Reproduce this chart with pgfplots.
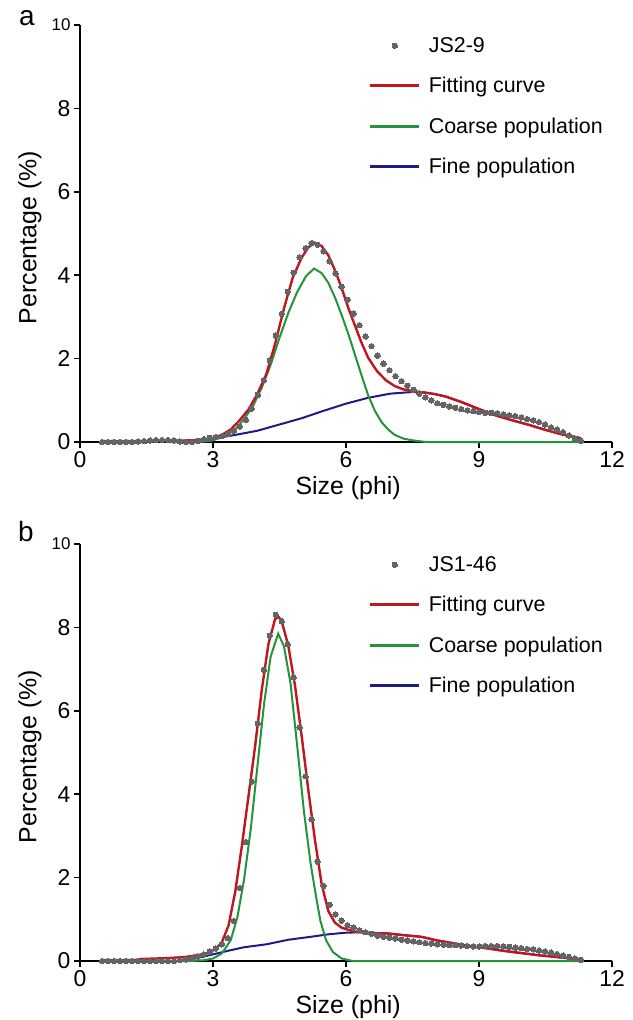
\documentclass[border=0pt]{standalone}
\usepackage{fontspec}
\setmainfont{Liberation Sans}
\usepackage{pgfplots}
\pgfplotsset{compat=1.18}
\definecolor{fitred}{RGB}{192,22,32}
\definecolor{coarsegreen}{RGB}{34,148,58}
\definecolor{finenavy}{RGB}{30,28,130}
\definecolor{dotgray}{RGB}{100,100,100}

\pgfplotsset{
 panel/.style={
  scale only axis, width=532bp, height=417bp,
  xmin=0, xmax=12, ymin=0, ymax=10,
  axis x line*=bottom, axis y line*=left,
  axis line style={line width=1.7bp, black, -},
  xtick={0,3,6,9,12}, ytick={0,2,4,6,8,10},
  yticklabels={0,2,4,6,8,{\fontsize{17}{19}\selectfont 10}},
  tick align=outside, major tick length=6bp,
  tick style={line width=1.7bp, black},
  /pgf/number format/assume math mode=true,
  tick label style={font=\fontsize{23}{26}\selectfont},
  label style={font=\fontsize{25}{28}\selectfont},
  xlabel={Size (phi)}, ylabel={Percentage (\%)},
  xlabel style={at={(axis description cs:0.504,-0.11)}, anchor=center},
  ylabel style={at={(axis description cs:-0.094,0.49)}, anchor=center},
  clip=false,
  legend cell align=left,
  legend style={draw=none, fill=none, font=\fontsize{21.5}{24}\selectfont,
    at={(axis description cs:0.537,0.98)}, anchor=north west, row sep=19.5bp,
    /tikz/every odd column/.append style={column sep=6bp}},
  legend image code/.code={\draw[##1] (0bp,0bp) -- (49bp,0bp);},
 },
 dots/.style={only marks, mark=*, mark size=2.7bp, mark options={draw=dotgray,fill=dotgray,line width=0pt},
   legend image code/.code={\draw[mark repeat=2,mark phase=2,##1] plot coordinates {(0bp,0bp) (24.5bp,0bp) (49bp,0bp)};}},
 fitline/.style={fitred, line width=2.4bp},
 coarseline/.style={coarsegreen, line width=2bp},
 fineline/.style={finenavy, line width=2bp},
}

\pgfplotstableread{
x y
0.5 0
0.635 0
0.77 0
0.905 0
1.04 0
1.175 0
1.31 0.01
1.445 0.02
1.58 0.04
1.715 0.05
1.85 0.05
1.985 0.05
2.12 0.04
2.255 0.01
2.39 0
2.525 0
2.66 0.03
2.795 0.07
2.93 0.1
3.065 0.12
3.2 0.14
3.335 0.19
3.47 0.27
3.605 0.37
3.74 0.53
3.875 0.8
4.01 1.13
4.145 1.48
4.28 1.95
4.415 2.55
4.55 3.07
4.685 3.6
4.82 4.06
4.955 4.43
5.09 4.65
5.225 4.77
5.36 4.73
5.495 4.57
5.63 4.33
5.765 4.04
5.9 3.72
6.035 3.41
6.17 3.08
6.305 2.8
6.44 2.53
6.575 2.3
6.71 2.07
6.845 1.88
6.98 1.72
7.115 1.58
7.25 1.46
7.385 1.35
7.52 1.25
7.655 1.16
7.79 1.07
7.925 1.0
8.06 0.93
8.195 0.89
8.33 0.85
8.465 0.82
8.6 0.79
8.735 0.76
8.87 0.74
9.005 0.72
9.14 0.7
9.275 0.7
9.41 0.69
9.545 0.66
9.68 0.64
9.815 0.62
9.95 0.59
10.085 0.55
10.22 0.52
10.355 0.48
10.49 0.42
10.625 0.35
10.76 0.3
10.895 0.24
11.03 0.16
11.165 0.08
11.3 0.03
}\dotsA

\pgfplotstableread{
x y
0.5 0.02
1.0 0.02
1.5 0.02
2.0 0.03
2.5 0.04
2.8 0.06
3.0 0.1
3.2 0.17
3.4 0.3
3.6 0.52
3.8 0.78
4.0 1.15
4.2 1.62
4.4 2.35
4.6 3.2
4.8 3.95
5.0 4.42
5.15 4.67
5.3 4.78
5.45 4.7
5.6 4.48
5.75 4.12
5.9 3.7
6.05 3.22
6.2 2.8
6.35 2.38
6.5 2.02
6.7 1.7
6.9 1.48
7.1 1.34
7.3 1.26
7.5 1.22
7.75 1.19
8.0 1.15
8.25 1.09
8.6 0.96
9.0 0.79
9.37 0.64
9.75 0.52
10.13 0.41
10.5 0.29
10.88 0.18
11.3 0.09
}\fitA

\pgfplotstableread{
x y
2.0 0
2.5 0
2.8 0.01
3.0 0.04
3.25 0.13
3.5 0.3
3.7 0.55
3.9 0.86
4.1 1.3
4.3 1.85
4.5 2.5
4.7 3.1
4.9 3.6
5.1 3.98
5.28 4.16
5.45 4.05
5.6 3.82
5.75 3.47
5.9 3.05
6.05 2.6
6.2 2.1
6.35 1.6
6.5 1.12
6.65 0.75
6.8 0.48
6.95 0.3
7.1 0.17
7.3 0.08
7.5 0.04
7.8 0.0
11.3 0.0
}\coarseA

\pgfplotstableread{
x y
2.2 0
2.5 0.03
3.0 0.08
3.5 0.17
4.0 0.27
4.5 0.42
5.0 0.57
5.5 0.75
6.0 0.92
6.5 1.06
7.0 1.16
7.5 1.2
7.75 1.19
8.0 1.15
8.25 1.09
8.6 0.96
9.0 0.79
9.37 0.64
9.75 0.52
10.13 0.41
10.5 0.29
10.88 0.18
11.3 0.09
}\fineA

\pgfplotstableread{
x y
0.5 0
0.635 0
0.77 0
0.905 0
1.04 0
1.175 0
1.31 0
1.445 0
1.58 0
1.715 0
1.85 0
1.985 0
2.12 0
2.255 0.02
2.39 0.04
2.525 0.07
2.66 0.11
2.795 0.16
2.93 0.23
3.065 0.3
3.2 0.4
3.335 0.55
3.47 0.96
3.605 1.75
3.74 2.85
3.875 4.3
4.01 5.7
4.145 6.98
4.28 7.8
4.415 8.3
4.55 8.15
4.685 7.6
4.82 6.8
4.955 5.6
5.09 4.43
5.225 3.4
5.36 2.38
5.495 1.8
5.63 1.35
5.765 1.12
5.9 0.97
6.035 0.86
6.17 0.8
6.305 0.74
6.44 0.69
6.575 0.65
6.71 0.61
6.845 0.58
6.98 0.56
7.115 0.54
7.25 0.51
7.385 0.49
7.52 0.47
7.655 0.45
7.79 0.43
7.925 0.42
8.06 0.4
8.195 0.39
8.33 0.38
8.465 0.38
8.6 0.37
8.735 0.36
8.87 0.35
9.005 0.35
9.14 0.36
9.275 0.36
9.41 0.36
9.545 0.35
9.68 0.34
9.815 0.32
9.95 0.31
10.085 0.29
10.22 0.28
10.355 0.25
10.49 0.23
10.625 0.2
10.76 0.17
10.895 0.13
11.03 0.1
11.165 0.06
11.3 0.03
}\dotsB

\pgfplotstableread{
x y
0.5 0.02
1.2 0.02
1.4 0.05
2.0 0.07
2.4 0.1
2.7 0.15
2.9 0.2
3.05 0.28
3.2 0.45
3.35 0.85
3.5 1.65
3.65 2.75
3.8 3.95
3.95 5.15
4.1 6.5
4.25 7.6
4.4 8.2
4.48 8.25
4.55 8.15
4.7 7.55
4.85 6.6
5.0 5.4
5.15 4.1
5.3 2.9
5.45 1.85
5.6 1.2
5.75 0.92
5.9 0.8
6.2 0.7
6.6 0.67
6.95 0.66
7.3 0.62
7.7 0.58
8.07 0.49
8.46 0.42
8.83 0.35
9.21 0.3
9.58 0.24
9.96 0.19
10.33 0.14
10.71 0.1
11.08 0.06
11.3 0.03
}\fitB

\pgfplotstableread{
x y
2.0 0
2.5 0
2.8 0.02
3.0 0.06
3.2 0.18
3.4 0.5
3.55 1.05
3.7 1.95
3.85 3.15
4.0 4.65
4.15 6.15
4.3 7.3
4.47 7.85
4.6 7.55
4.75 6.65
4.9 5.15
5.05 3.6
5.2 2.35
5.3 1.7
5.42 0.97
5.55 0.5
5.7 0.22
5.9 0.06
6.15 0
11.3 0
}\coarseB

\pgfplotstableread{
x y
2.2 0
2.6 0.06
3.0 0.16
3.4 0.26
3.7 0.33
4.2 0.4
4.7 0.51
5.2 0.58
5.6 0.64
6.0 0.68
6.4 0.69
6.6 0.67
6.95 0.66
7.3 0.62
7.7 0.58
8.07 0.49
8.46 0.42
8.83 0.35
9.21 0.3
9.58 0.24
9.96 0.19
10.33 0.14
10.71 0.1
11.08 0.06
11.3 0.03
}\fineB

\begin{document}
\begin{tikzpicture}
\useasboundingbox (0,0) rectangle (633bp,-1020bp);

\begin{axis}[panel, at={(80bp,-442bp)}, anchor=south west]
\addplot[dots] table {\dotsA};
\addlegendentry{JS2-9}
\addlegendimage{fitline, line width=3bp}
\addlegendentry{Fitting curve}
\addlegendimage{coarseline, line width=3bp}
\addlegendentry{Coarse population}
\addlegendimage{fineline, line width=3bp}
\addlegendentry{Fine population}
\addplot[fineline, forget plot] table {\fineA};
\addplot[coarseline, forget plot] table {\coarseA};
\addplot[fitline, forget plot] table {\fitA};
\end{axis}

\begin{axis}[panel, at={(80bp,-961bp)}, anchor=south west]
\addplot[dots] table {\dotsB};
\addlegendentry{JS1-46}
\addlegendimage{fitline, line width=3bp}
\addlegendentry{Fitting curve}
\addlegendimage{coarseline, line width=3bp}
\addlegendentry{Coarse population}
\addlegendimage{fineline, line width=3bp}
\addlegendentry{Fine population}
\addplot[fineline, forget plot] table {\fineB};
\addplot[coarseline, forget plot] table {\coarseB};
\addplot[fitline, forget plot] table {\fitB};
\end{axis}

\node[font=\fontsize{28}{30}\selectfont, anchor=center] at (27bp,-18bp) {a};
\node[font=\fontsize{28}{30}\selectfont, anchor=center] at (26bp,-532bp) {b};
\end{tikzpicture}
\end{document}
